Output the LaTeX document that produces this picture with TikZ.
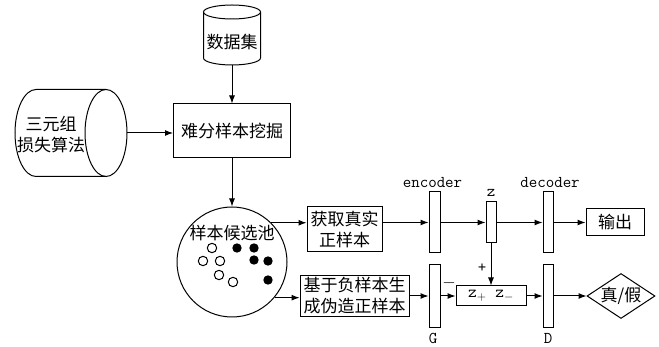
\documentclass[tikz,border=0pt]{standalone}
\usepackage{fontspec}
\newfontfamily\cjk{Noto Sans CJK SC}
\usetikzlibrary{shapes.geometric,arrows.meta}

\tikzset{
  blk/.style={draw, rectangle, align=center, inner sep=2pt},
  bar/.style={draw, rectangle, minimum width=11, minimum height=61, inner sep=0pt},
  lbl/.style={font=\ttfamily\fontsize{16.5}{17}\selectfont, inner sep=0pt},
}

\begin{document}
\begin{tikzpicture}[x=1pt, y=-1pt, line width=1pt, >={Latex[length=8pt,width=6pt]},
    every node/.append style={font=\cjk\fontsize{17}{21}\selectfont}]
    \useasboundingbox (0,0) rectangle (659,347);

    %dataset (cylinder)
    \draw (232,12) ellipse [x radius=28.5pt, y radius=7pt];
    \draw (203.5,12) -- (203.5,58) arc[start angle=180, end angle=360, x radius=28.5pt, y radius=7pt] -- (260.5,12);
    \node[minimum width=57, minimum height=46, inner sep=0pt] (data) at (232,42) {数据集};

    %triplet loss (lying cylinder)
    \draw (106,133) ellipse [x radius=21pt, y radius=43.5pt];
    \draw (106,89.5) -- (36,89.5) arc[start angle=90, end angle=270, x radius=21pt, y radius=43.5pt] -- (106,176.5);
    \node[align=center] (triplet) at (51,135) {三元组\\损失算法};
    \coordinate (tripout) at (127,133);

    \node[blk, minimum width=117, minimum height=54] (mine) at (232,131) {难分样本挖掘};

    %pool
    \node[circle, draw, minimum size=110, inner sep=0pt] (pool) at (232,262) {};
    \node (pooltxt) at (232,233) {样本候选池};
    \foreach \p in {(212,248),(203,261),(220,261),(219,275),(233,282)}
        \draw \p circle (4.7pt);
    \foreach \p in {(237,248),(254,248),(254,260),(268,261),(268,280)}
        \fill \p circle (4.7pt);

    %samples
    \node[blk, minimum width=75, minimum height=45] (real) at (344.5,229.5) {获取真实\\正样本};
    \node[blk, minimum width=109, minimum height=41] (fake) at (354.5,296) {基于负样本生\\成伪造正样本};

    %network
    \node[bar] (enc) at (434.5,222.5) {};
    \node[bar, minimum height=63] (gen) at (434.5,296) {};
    \node[bar, minimum width=10, minimum height=41] (z) at (491,222.5) {};
    \node[bar, minimum width=10] (dec) at (548,222.5) {};
    \node[bar, minimum width=10, minimum height=63] (dis) at (548,296) {};
    \node[blk, minimum width=58, minimum height=27] (out) at (615,222.5) {输出};
    \node[blk, minimum width=70, minimum height=20, inner sep=0pt] (zz) at (491,296) {\ttfamily z$_+$ z$_-$};
    \node[diamond, draw, aspect=1.5, inner sep=0pt, minimum width=68, minimum height=45] (judge) at (621,296) {真/假};

    %labels
    \node[lbl] (enclbl) at (432.5,183) {encoder};
    \node[lbl] (zlbl) at (491,193) {z};
    \node[lbl] (declbl) at (550,183) {decoder};
    \node[lbl] (glbl) at (433,338) {G};
    \node[lbl] (dlbl) at (548,338) {D};
    \node[lbl] (plus) at (482,268) {+};
    \node[lbl] (minus) at (449,283) {$-$};

    %arrows
    \draw[->] (data) -- (mine);
    \draw[->] (tripout) -- (tripout -| mine.west);
    \draw[->] (mine) -- (pool);
    \draw[->] (pool.45) -- (pool.45 -| real.west);
    \draw[->] (pool.-40) -- (pool.-40 -| fake.west);
    \draw[->] (real.east |- enc) -- (enc);
    \draw[->] (fake) -- (gen);
    \draw[->] (enc) -- (z);
    \draw[->] (z) -- (dec);
    \draw[->] (dec) -- (out);
    \draw[->] (gen) -- (zz);
    \draw[->] (z) -- (zz);
    \draw[->] (zz) -- (dis);
    \draw[->] (dis) -- (judge);
\end{tikzpicture}
\end{document}
